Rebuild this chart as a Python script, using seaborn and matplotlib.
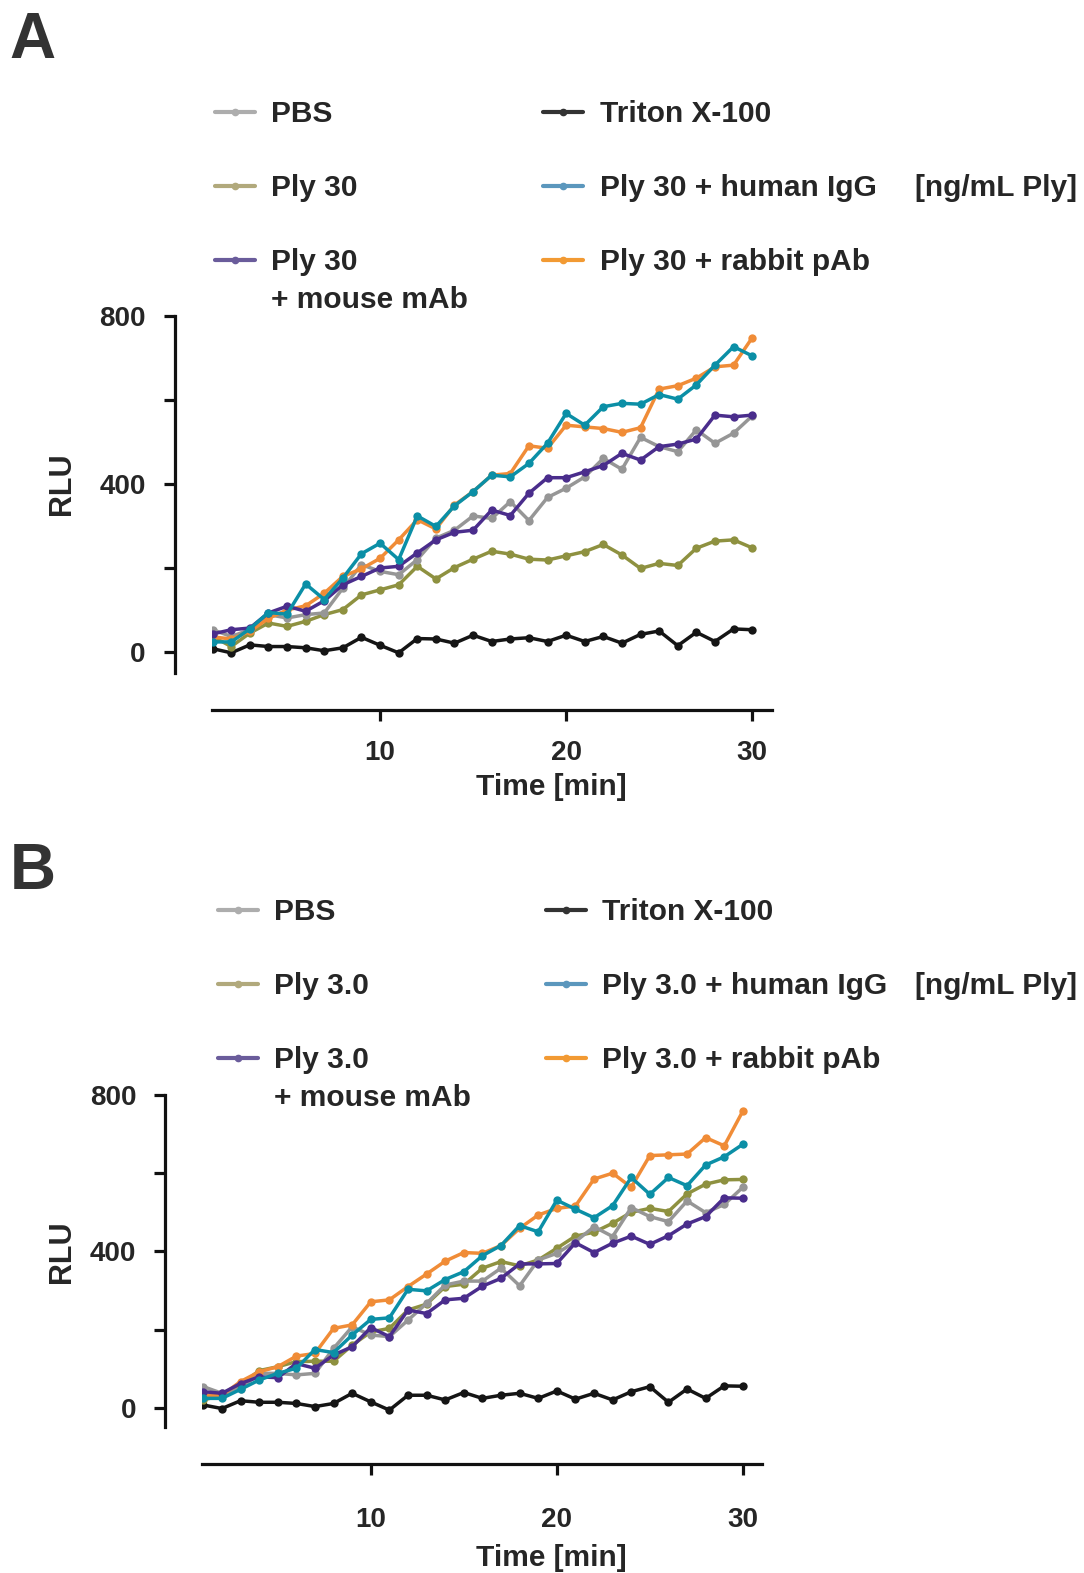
import matplotlib
matplotlib.use('Agg')
from matplotlib import pyplot as plt
from matplotlib.lines import Line2D
from matplotlib.text import Annotation
import pandas as pd
import seaborn as sns

sns.set_style('ticks')
plt.rcParams['font.family'] = ['Liberation Sans', 'DejaVu Sans']
plt.rcParams['font.weight'] = 'bold'

time = list(range(1, 31))

# panel A, 30 ng/mL Ply
pbs_a = [53, 37, 53, 89, 81, 89, 93, 152, 208, 192, 184, 220, 271, 290, 324,
         318, 358, 313, 368, 390, 417, 461, 435, 511, 489, 477, 529, 497, 521, 562]
ply_a = [37, 13, 45, 69, 61, 73, 89, 101, 136, 148, 160, 204, 174, 201, 221,
         240, 233, 221, 219, 229, 239, 256, 231, 199, 211, 206, 247, 264, 267, 248]
mouse_a = [43, 53, 57, 93, 109, 97, 122, 160, 180, 200, 204, 236, 267, 285, 290,
           338, 325, 378, 415, 415, 429, 444, 473, 457, 489, 495, 507, 564, 560, 564]
triton_a = [8, -2, 17, 13, 13, 10, 3, 10, 35, 16, -2, 32, 31, 21, 40,
            25, 31, 34, 25, 40, 25, 37, 21, 42, 50, 15, 47, 25, 55, 53]
human_a = [24, 24, 55, 94, 90, 162, 125, 176, 234, 259, 220, 324, 299, 348, 382,
           421, 417, 449, 497, 568, 540, 584, 592, 590, 613, 602, 636, 683, 727, 705]
rabbit_a = [36, 31, 49, 80, 100, 110, 140, 180, 198, 223, 267, 315, 293, 350, 382,
            421, 425, 491, 485, 540, 536, 532, 523, 534, 626, 634, 652, 679, 683, 748]

# panel B, 3.0 ng/mL Ply
pbs_b = [54, 37, 49, 88, 88, 84, 88, 152, 207, 186, 182, 224, 267, 314, 324,
         324, 357, 312, 378, 395, 425, 463, 438, 512, 489, 476, 529, 499, 520, 564]
ply_b = [20, 32, 58, 95, 105, 118, 119, 119, 160, 194, 203, 250, 265, 310, 316,
         357, 374, 363, 378, 408, 439, 449, 472, 500, 510, 502, 547, 572, 583, 584]
mouse_b = [41, 37, 62, 79, 77, 113, 101, 135, 156, 205, 182, 250, 241, 276, 280,
           311, 331, 368, 368, 369, 422, 397, 421, 439, 418, 440, 470, 489, 537, 536]
triton_b = [7, -2, 18, 14, 14, 11, 3, 11, 37, 15, -6, 32, 32, 20, 39,
            24, 32, 37, 24, 43, 22, 37, 20, 41, 54, 14, 48, 24, 56, 55]
human_b = [24, 24, 47, 71, 88, 101, 149, 141, 186, 226, 230, 303, 299, 328, 348,
           389, 415, 466, 450, 531, 508, 486, 517, 589, 546, 589, 568, 621, 642, 674]
rabbit_b = [32, 32, 67, 92, 105, 132, 139, 203, 212, 271, 276, 310, 342, 375, 397,
            395, 415, 459, 493, 510, 516, 585, 600, 564, 645, 647, 649, 691, 670, 759]

groups = ['PBS', 'Ply', 'mouse', 'Triton', 'human', 'rabbit']
line_colors = {'PBS': '#969696', 'Ply': '#8e9140', 'mouse': '#4a2d8c',
               'Triton': '#151515', 'human': '#0b8fa6', 'rabbit': '#f08c37'}
legend_colors = {'PBS': '#adadad', 'Ply': '#b1a97c', 'mouse': '#6a5c9b',
                 'Triton': '#333333', 'human': '#5b97bd', 'rabbit': '#f29a33'}
draw_order = ['Triton', 'Ply', 'PBS', 'rabbit', 'mouse', 'human']

labels_a = ['PBS', 'Ply 30', 'Ply 30', 'Triton X-100', 'Ply 30 + human IgG', 'Ply 30 + rabbit pAb']
labels_b = ['PBS', 'Ply 3.0', 'Ply 3.0', 'Triton X-100', 'Ply 3.0 + human IgG', 'Ply 3.0 + rabbit pAb']


def long_df(series):
    rows = []
    for g, vals in zip(groups, series):
        for t, v in zip(time, vals):
            rows.append({'Time': t, 'RLU': v, 'group': g})
    return pd.DataFrame(rows)


def draw_panel(fig, rect, series, labels, letter, letter_y, leg_anchor, colspace,
               xpad, xlab_pos, ylab_pos):
    ax = fig.add_axes(rect)
    df = long_df(series)
    sns.lineplot(data=df, x='Time', y='RLU', hue='group', hue_order=draw_order,
                 palette=line_colors, marker='o', markersize=6, markeredgewidth=0,
                 linewidth=2.5, legend=False, ax=ax)
    ax.set_xlim(0.95, 31.05)
    ax.set_ylim(-50, 800)
    ax.set_xticks([10, 20, 30])
    ax.set_yticks([0, 400, 800])
    ax.set_yticks([200, 600], minor=True)
    sns.despine(ax=ax, offset=26.6)
    for s in ['left', 'bottom']:
        ax.spines[s].set_linewidth(2.3)
        ax.spines[s].set_color('#111111')
    ax.tick_params(which='both', width=2.3, length=8, color='#111111', labelsize=20)
    ax.tick_params(axis='y', pad=13)
    ax.tick_params(axis='x', pad=xpad)
    ax.set_xlabel('Time [min]', fontsize=21.5, fontweight='bold')
    ax.set_ylabel('RLU', fontsize=22, fontweight='bold')
    ax.xaxis.set_label_coords(*xlab_pos)
    ax.yaxis.set_label_coords(*ylab_pos)

    handles = [Line2D([], [], color=legend_colors[g], lw=3, marker='o', ms=4.5)
               for g in groups]
    leg = fig.legend(handles, labels, ncol=2, loc='upper left', bbox_to_anchor=leg_anchor,
                     frameon=False, prop={'weight': 'bold', 'size': 21.5},
                     handlelength=1.34, handletextpad=0.54, columnspacing=colspace,
                     labelspacing=1.54, borderpad=0, borderaxespad=0)
    texts = leg.get_texts()
    extra = Annotation('+ mouse mAb', xy=(0, 0), xycoords=texts[2], xytext=(0, -7),
                       textcoords='offset points', va='top', ha='left',
                       fontsize=21.5, fontweight='bold')
    extra.set_zorder(10)
    fig.add_artist(extra)
    unit = Annotation('[ng/mL Ply]', xy=(915 / 1084, 0), xycoords=('figure fraction', texts[4]),
                      va='bottom', ha='left', fontsize=21.5, fontweight='bold')
    unit.set_zorder(10)
    fig.add_artist(unit)
    fig.text(0.009, letter_y, letter, fontsize=46, fontweight='bold', color='#333333', va='top')
    return ax


fig = plt.figure(figsize=(10.84, 15.73), dpi=100)
draw_panel(fig, [211.7 / 1084, 1 - 673 / 1573, 560 / 1084, 357 / 1573],
           [pbs_a, ply_a, mouse_a, triton_a, human_a, rabbit_a], labels_a,
           'A', 1 - 11 / 1573, (215 / 1084, 1 - 100 / 1573), 6.22, 14,
           (0.606, -0.279), (-0.24, 0.53))
draw_panel(fig, [202.4 / 1084, 1 - 1427.3 / 1573, 560 / 1084, 332.3 / 1573],
           [pbs_b, ply_b, mouse_b, triton_b, human_b, rabbit_b], labels_b,
           'B', 1 - 842 / 1573, (218 / 1084, 1 - 898 / 1573), 5.92, 23,
           (0.623, -0.352), (-0.224, 0.528))

fig.savefig('out.png', dpi=100)
